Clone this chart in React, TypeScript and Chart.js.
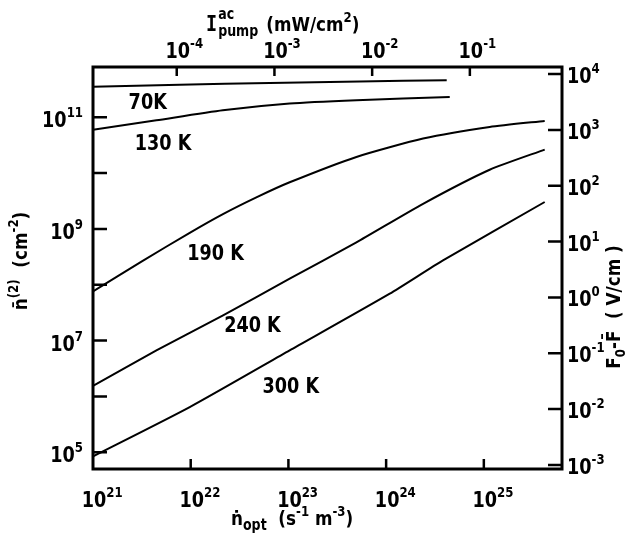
import { useEffect, useRef } from "react";
import { Chart, registerables } from "chart.js";

Chart.register(...registerables);

// Axis extents (decimal exponents)
const X_MIN_EXP = 21;
const X_MAX_EXP = 25.8;
const Y_MIN_EXP = 4.7;
const Y_MAX_EXP = 11.9;
const TOP_SHIFT = 25.857; // log10(I_pump) = log10(n_opt) - TOP_SHIFT
const RIGHT_SHIFT = 7.773; // log10(F0-F) = log10(n2) - RIGHT_SHIFT

// Tick exponents
const bottomTicks = [21, 22, 23, 24, 25];
const bottomLabels = [21, 22, 23, 24, 25];
const topTicks = [-4, -3, -2, -1];
const leftTicks = [5, 6, 7, 8, 9, 10, 11];
const leftLabels = [5, 7, 9, 11];
const rightTicks = [-3, -2, -1, 0, 1, 2, 3, 4];

// Curves: log10(n_opt) and log10(n2)
const k70X = [21, 21.887, 22.809, 23.73, 24.62];
const k70Y = [11.547, 11.582, 11.615, 11.64, 11.663];

const k130X = [21, 21.649, 22.328, 23.013, 23.696, 24.651];
const k130Y = [10.776, 10.946, 11.125, 11.246, 11.305, 11.364];

const k190X = [21, 21.5, 21.99, 22.33, 22.672, 23.013, 23.696, 24.378, 25.06, 25.623];
const k190Y = [7.882, 8.42, 8.93, 9.265, 9.565, 9.835, 10.289, 10.618, 10.826, 10.934];

const k240X = [21, 21.649, 22.331, 23.013, 23.696, 24.378, 25.06, 25.623];
const k240Y = [6.188, 6.824, 7.452, 8.109, 8.76, 9.45, 10.06, 10.421];

const k300X = [21, 21.99, 23.013, 24.037, 24.582, 25.623];
const k300Y = [4.925, 5.808, 6.824, 7.84, 8.437, 9.482];

const curveLabels = ["70K", "130 K", "190 K", "240 K", "300 K"];
const curveLabelX = [21.56, 21.717, 22.254, 22.632, 23.024];
const curveLabelY = [11.3, 10.55, 8.58, 7.3, 6.2];

const FONT = '"DejaVu Sans", sans-serif';
const WEIGHT = "bold";
const SQUEEZE = 0.84;

type Part = { t: string; s: number; dy: number; f?: string; w?: string };

function fontOf(p: Part) {
  return `${p.w ?? WEIGHT} ${p.s}px ${p.f || FONT}`;
}

function partsWidth(ctx: CanvasRenderingContext2D, parts: Part[]) {
  let w = 0;
  for (const p of parts) {
    ctx.font = fontOf(p);
    w += ctx.measureText(p.t).width * SQUEEZE;
  }
  return w;
}

function drawParts(ctx: CanvasRenderingContext2D, parts: Part[], x: number, y: number) {
  let cx = x;
  for (const p of parts) {
    ctx.font = fontOf(p);
    ctx.save();
    ctx.translate(cx, y + p.dy);
    ctx.scale(SQUEEZE, 1);
    ctx.fillText(p.t, 0, 0);
    ctx.restore();
    cx += ctx.measureText(p.t).width * SQUEEZE;
  }
  return cx;
}

function pow(arrX: number[], arrY: number[]) {
  return arrX.map((x, i) => ({ x: Math.pow(10, x), y: Math.pow(10, arrY[i]) }));
}

const decorPlugin = {
  id: "decor",
  afterDraw(chart: any) {
    const ctx: CanvasRenderingContext2D = chart.ctx;
    const a = chart.chartArea;
    const sx = chart.scales.x;
    const sy = chart.scales.y;
    const sx2 = chart.scales.x2;
    const sy2 = chart.scales.y2;
    ctx.save();
    ctx.fillStyle = "#000";
    ctx.strokeStyle = "#000";
    ctx.textBaseline = "alphabetic";
    ctx.textAlign = "left";

    // frame
    ctx.lineWidth = 3;
    ctx.strokeRect(a.left, a.top, a.right - a.left, a.bottom - a.top);

    // ticks
    ctx.lineWidth = 2.5;
    ctx.beginPath();
    for (const e of bottomTicks) {
      if (e === X_MIN_EXP) continue;
      const px = sx.getPixelForValue(Math.pow(10, e));
      ctx.moveTo(px, a.bottom);
      ctx.lineTo(px, a.bottom - 10);
    }
    for (const e of topTicks) {
      const px = sx2.getPixelForValue(Math.pow(10, e));
      ctx.moveTo(px, a.top);
      ctx.lineTo(px, a.top + 9);
    }
    for (const e of leftTicks) {
      const py = sy.getPixelForValue(Math.pow(10, e));
      ctx.moveTo(a.left, py);
      ctx.lineTo(a.left + 14, py);
    }
    for (const e of rightTicks) {
      const py = sy2.getPixelForValue(Math.pow(10, e));
      ctx.moveTo(a.right, py);
      ctx.lineTo(a.right - 14, py);
    }
    ctx.stroke();

    const base = 21;
    const sup = 14;
    const sdy = -10;
    const expStr = (e: number) => (e < 0 ? "-" + Math.abs(e) : String(e));
    const tenW = () => partsWidth(ctx, [{ t: "10", s: base, dy: 0 }]);

    // bottom labels
    for (const e of bottomLabels) {
      const px = sx.getPixelForValue(Math.pow(10, e));
      drawParts(ctx, [{ t: "10", s: base, dy: 0 }, { t: expStr(e), s: sup, dy: sdy }], px - tenW() / 2 + 1, a.bottom + 38);
    }
    // top labels
    for (const e of topTicks) {
      const px = sx2.getPixelForValue(Math.pow(10, e));
      drawParts(ctx, [{ t: "10", s: base, dy: 0 }, { t: expStr(e), s: sup, dy: sdy }], px - tenW() / 2 + 1, a.top - 9);
    }
    // left labels
    for (const e of leftLabels) {
      const py = sy.getPixelForValue(Math.pow(10, e));
      const parts = [{ t: "10", s: base, dy: 0 }, { t: expStr(e), s: sup, dy: sdy }];
      const w = partsWidth(ctx, parts);
      drawParts(ctx, parts, 83 - w, py + 10);
    }
    // right labels
    for (const e of rightTicks) {
      const py = sy2.getPixelForValue(Math.pow(10, e));
      drawParts(ctx, [{ t: "10", s: base, dy: 0 }, { t: expStr(e), s: sup, dy: sdy }], a.right + 5, py + 9);
    }

    // curve labels
    for (let i = 0; i < curveLabels.length; i++) {
      const px = sx.getPixelForValue(Math.pow(10, curveLabelX[i]));
      const py = sy.getPixelForValue(Math.pow(10, curveLabelY[i]));
      const parts = [{ t: curveLabels[i], s: 21, dy: 0 }];
      const w = partsWidth(ctx, parts);
      drawParts(ctx, parts, px - w / 2, py + 8);
    }

    // top title
    {
      const x0 = 206;
      const yb = 31;
      const mono = '"DejaVu Sans Mono", monospace';
      drawParts(ctx, [{ t: "I", s: 22, dy: 0, f: mono }], x0, yb);
      const wI = partsWidth(ctx, [{ t: "I", s: 22, dy: 0, f: mono }]);
      drawParts(ctx, [{ t: "ac", s: 15, dy: -12 }], x0 + wI + 1, yb);
      const end = drawParts(ctx, [{ t: "pump", s: 15, dy: 5 }], x0 + wI + 1, yb);
      drawParts(
        ctx,
        [
          { t: "(mW/cm", s: 20, dy: 0 },
          { t: "2", s: 14, dy: -9 },
          { t: ")", s: 20, dy: 0 },
        ],
        end + 8,
        yb
      );
    }
    // bottom title
    drawParts(
      ctx,
      [
        { t: "\u1E45", s: 20, dy: 0 },
        { t: "opt", s: 15, dy: 5 },
        { t: "  (s", s: 20, dy: 0 },
        { t: "-1", s: 14, dy: -9 },
        { t: " m", s: 20, dy: 0 },
        { t: "-3", s: 14, dy: -9 },
        { t: ")", s: 20, dy: 0 },
      ],
      231,
      525
    );
    // left title (rotated)
    {
      const parts: Part[] = [
        { t: "n\u0304", s: 20, dy: 0 },
        { t: "(2)", s: 14, dy: -9 },
        { t: "  (cm", s: 20, dy: 0 },
        { t: "-2", s: 14, dy: -9 },
        { t: ")", s: 20, dy: 0 },
      ];
      ctx.save();
      ctx.translate(27, 261);
      ctx.rotate(-Math.PI / 2);
      const w = partsWidth(ctx, parts);
      drawParts(ctx, parts, -w / 2, 0);
      ctx.restore();
    }
    // right title (rotated)
    {
      const parts: Part[] = [
        { t: "F", s: 20, dy: 0 },
        { t: "0", s: 14, dy: 5 },
        { t: "-F\u0304", s: 20, dy: 0 },
        { t: "  ( V/cm )", s: 20, dy: 0 },
      ];
      ctx.save();
      ctx.translate(620, 307);
      ctx.rotate(-Math.PI / 2);
      const w = partsWidth(ctx, parts);
      drawParts(ctx, parts, -w / 2, 0);
      ctx.restore();
    }
    ctx.restore();
  },
};

export default function App() {
  const ref = useRef<HTMLCanvasElement | null>(null);
  useEffect(() => {
    if (!ref.current) return;
    const mk = (data: { x: number; y: number }[]) => ({
      data,
      showLine: true,
      borderColor: "#000",
      borderWidth: 2,
      pointRadius: 0,
      fill: false,
      tension: 0.2,
      xAxisID: "x",
      yAxisID: "y",
    });
    const chart = new Chart(ref.current, {
      type: "scatter",
      data: {
        datasets: [
          mk(pow(k70X, k70Y)),
          mk(pow(k130X, k130Y)),
          mk(pow(k190X, k190Y)),
          mk(pow(k240X, k240Y)),
          mk(pow(k300X, k300Y)),
        ],
      },
      options: {
        animation: false,
        responsive: false,
        devicePixelRatio: 1,
        layout: { padding: { left: 93, right: 68, top: 67, bottom: 66 } },
        plugins: { legend: { display: false }, tooltip: { enabled: false } },
        events: [],
        scales: {
          x: { type: "logarithmic", display: false, min: Math.pow(10, X_MIN_EXP), max: Math.pow(10, X_MAX_EXP) },
          y: { type: "logarithmic", display: false, min: Math.pow(10, Y_MIN_EXP), max: Math.pow(10, Y_MAX_EXP) },
          x2: {
            type: "logarithmic",
            display: false,
            position: "top",
            min: Math.pow(10, X_MIN_EXP - TOP_SHIFT),
            max: Math.pow(10, X_MAX_EXP - TOP_SHIFT),
          },
          y2: {
            type: "logarithmic",
            display: false,
            position: "right",
            min: Math.pow(10, Y_MIN_EXP - RIGHT_SHIFT),
            max: Math.pow(10, Y_MAX_EXP - RIGHT_SHIFT),
          },
        },
      },
      plugins: [decorPlugin],
    });
    return () => chart.destroy();
  }, []);
  return (
    <div style={{ position: "absolute", left: 0, top: 0, width: 630, height: 535, background: "#fff" }}>
      <canvas ref={ref} width={630} height={535} style={{ width: 630, height: 535, display: "block" }} />
    </div>
  );
}
